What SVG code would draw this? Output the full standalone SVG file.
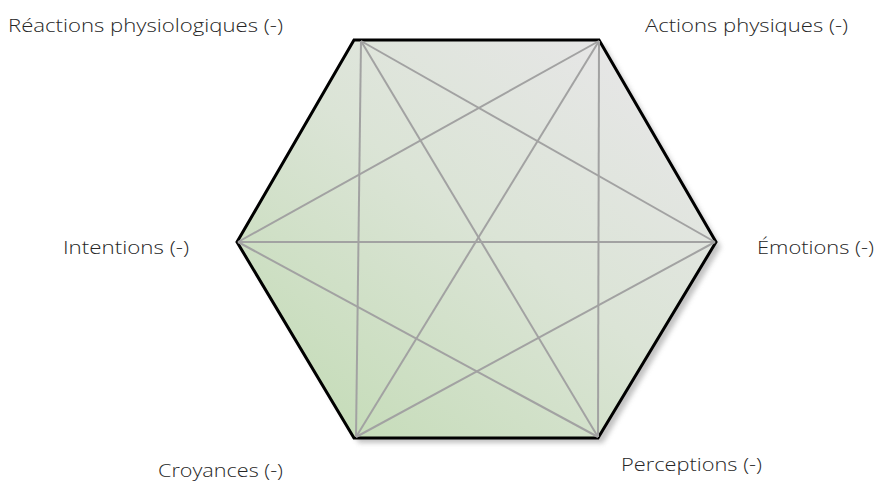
<svg xmlns="http://www.w3.org/2000/svg" width="877" height="483" viewBox="0 0 877 483">
<style>
.lbl{font-family:"Open Sans","Noto Sans",sans-serif;font-weight:300;font-size:18px;fill:#262626}
.hex{stroke:#000;stroke-width:3;stroke-linejoin:miter}
.diag{stroke:#a2a2a2;stroke-width:2;fill:none}
</style>
<defs>
<linearGradient id="g" gradientUnits="userSpaceOnUse" x1="330" y1="440" x2="620" y2="60">
<stop offset="0" stop-color="#c5dcb8"/>
<stop offset="0.55" stop-color="#dbe4d6"/>
<stop offset="1" stop-color="#e6e6e6"/>
</linearGradient>
<filter id="sh" x="-10%" y="-10%" width="120%" height="120%">
<feGaussianBlur stdDeviation="2.5"/>
</filter>
</defs>
<g id="shadow">
<polygon points="359,45 604,45 721,247 603,443 359,443 242,247" fill="#9a9a9a" opacity="0.6" filter="url(#sh)"/>
</g>
<g id="hexagon">
<polygon class="hex" points="354,40 599,40 716,242 598,438 354,438 237,242" fill="url(#g)"/>
</g>
<g id="connectors">
<line class="diag" x1="361" y1="41" x2="356" y2="437"/>
<line class="diag" x1="599" y1="41" x2="598" y2="437"/>
<line class="diag" x1="238" y1="242" x2="715" y2="242"/>
<line class="diag" x1="361" y1="41" x2="715" y2="242"/>
<line class="diag" x1="361" y1="41" x2="598" y2="437"/>
<line class="diag" x1="599" y1="41" x2="238" y2="242"/>
<line class="diag" x1="599" y1="41" x2="356" y2="437"/>
<line class="diag" x1="238" y1="242" x2="598" y2="437"/>
<line class="diag" x1="715" y1="242" x2="356" y2="437"/>
</g>
<g id="node-reactions"><text class="lbl" x="8" y="32" textLength="275" lengthAdjust="spacingAndGlyphs">Réactions physiologiques (-)</text></g>
<g id="node-actions"><text class="lbl" x="645" y="32" textLength="203" lengthAdjust="spacingAndGlyphs">Actions physiques (-)</text></g>
<g id="node-intentions"><text class="lbl" x="63" y="254" textLength="126" lengthAdjust="spacingAndGlyphs">Intentions (-)</text></g>
<g id="node-emotions"><text class="lbl" x="757" y="254" textLength="117" lengthAdjust="spacingAndGlyphs">Émotions (-)</text></g>
<g id="node-croyances"><text class="lbl" x="158" y="477" textLength="125" lengthAdjust="spacingAndGlyphs">Croyances (-)</text></g>
<g id="node-perceptions"><text class="lbl" x="621" y="471" textLength="141" lengthAdjust="spacingAndGlyphs">Perceptions (-)</text></g>
</svg>
